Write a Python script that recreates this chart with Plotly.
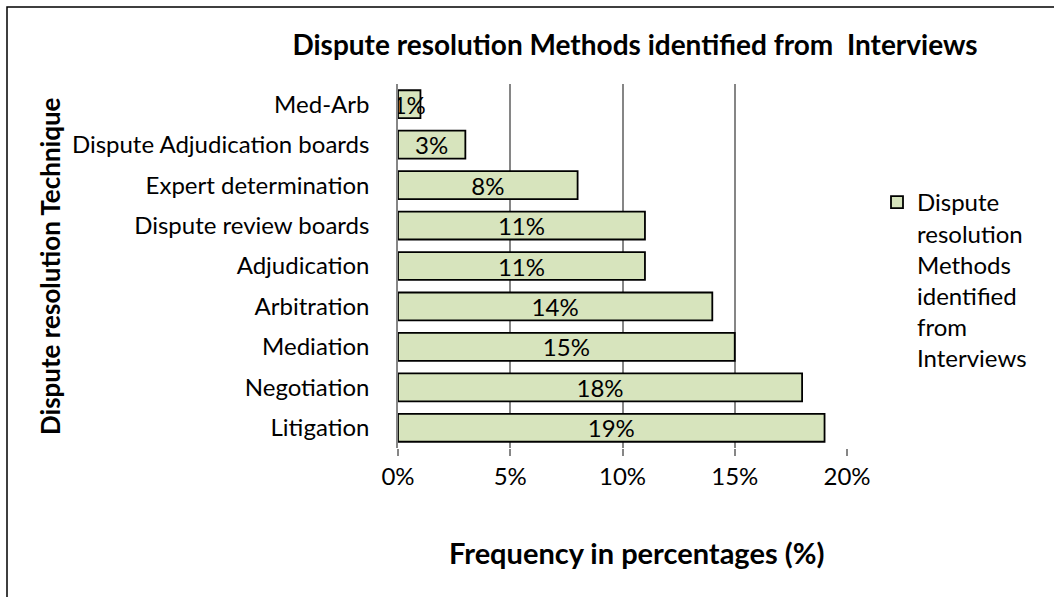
import plotly.graph_objects as go

categories = ["Litigation", "Negotiation", "Mediation", "Arbitration", "Adjudication",
              "Dispute review boards", "Expert determination",
              "Dispute Adjudication boards", "Med-Arb"]
values = [19, 18, 15, 14, 11, 11, 8, 3, 1]
labels = [f"{v}%" for v in values]
series_name = "Dispute<br>resolution<br>Methods<br>identified<br>from<br>Interviews"
x_ticks = [0, 5, 10, 15, 20]
x_tick_labels = ["0%", "5%", "10%", "15%", "20%"]

FONT = "Lato, Open Sans, sans-serif"
W, H = 1054, 597
L, R, T, B = 398, 847, 84, 448
pw, ph = R - L, B - T

fig = go.Figure()
fig.add_trace(go.Bar(
    y=categories, x=values, orientation="h", name=series_name,
    marker=dict(color="#D7E4BD", line=dict(color="black", width=1.8)),
    text=labels, textposition="inside", insidetextanchor="middle",
    constraintext="none", textangle=0,
    textfont=dict(color="black", size=24, family=FONT),
    width=0.69, showlegend=True,
))

fig.update_layout(
    width=W, height=H,
    margin=dict(l=L, r=W - R, t=T, b=H - B),
    paper_bgcolor="white", plot_bgcolor="white",
    font=dict(family=FONT, size=24, color="black"),
    title=dict(text="<b>Dispute resolution Methods identified from  Interviews</b>",
               x=635 / W, xanchor="center", y=1 - 45 / H, yanchor="middle",
               font=dict(size=28, family=FONT, color="black")),
    xaxis=dict(range=[0, 20], tickvals=x_ticks, ticktext=x_tick_labels,
               showgrid=True, gridcolor="#868686", gridwidth=1.5,
               ticks="outside", ticklen=7, tickcolor="#868686", tickwidth=1.5,
               zeroline=False, showline=False,
               tickfont=dict(size=24, family=FONT)),
    yaxis=dict(showgrid=False, showline=True, linecolor="#868686", linewidth=1.5,
               ticks="", ticklabelstandoff=22, tickfont=dict(size=24, family=FONT)),
    legend=dict(x=(877 - L) / pw, y=1 - (180 - T) / ph, xanchor="left", yanchor="top",
                font=dict(size=24, family=FONT), valign="top",
                bgcolor="rgba(0,0,0,0)", itemwidth=30),
    shapes=[dict(type="rect", xref="paper", yref="paper",
                 x0=(7 - L) / pw, x1=(1070 - L) / pw,
                 y0=1 + (T - 7) / ph, y1=1 - (610 - T) / ph,
                 line=dict(color="black", width=1.5), fillcolor="rgba(0,0,0,0)")],
    annotations=[
        dict(text="<b>Dispute resolution Technique</b>", textangle=-90,
             xref="paper", yref="paper", x=(50 - L) / pw, y=1 - (266 - T) / ph,
             xanchor="center", yanchor="middle", showarrow=False,
             font=dict(size=26, family=FONT, color="black")),
        dict(text="<b>Frequency in percentages (%)</b>",
             xref="paper", yref="paper", x=(636 - L) / pw, y=1 - (552 - T) / ph,
             xanchor="center", yanchor="middle", showarrow=False,
             font=dict(size=29, family=FONT, color="black")),
    ],
)

fig.write_html("out.html", config={"displayModeBar": False},
               post_script="document.body.style.margin='0px';")
